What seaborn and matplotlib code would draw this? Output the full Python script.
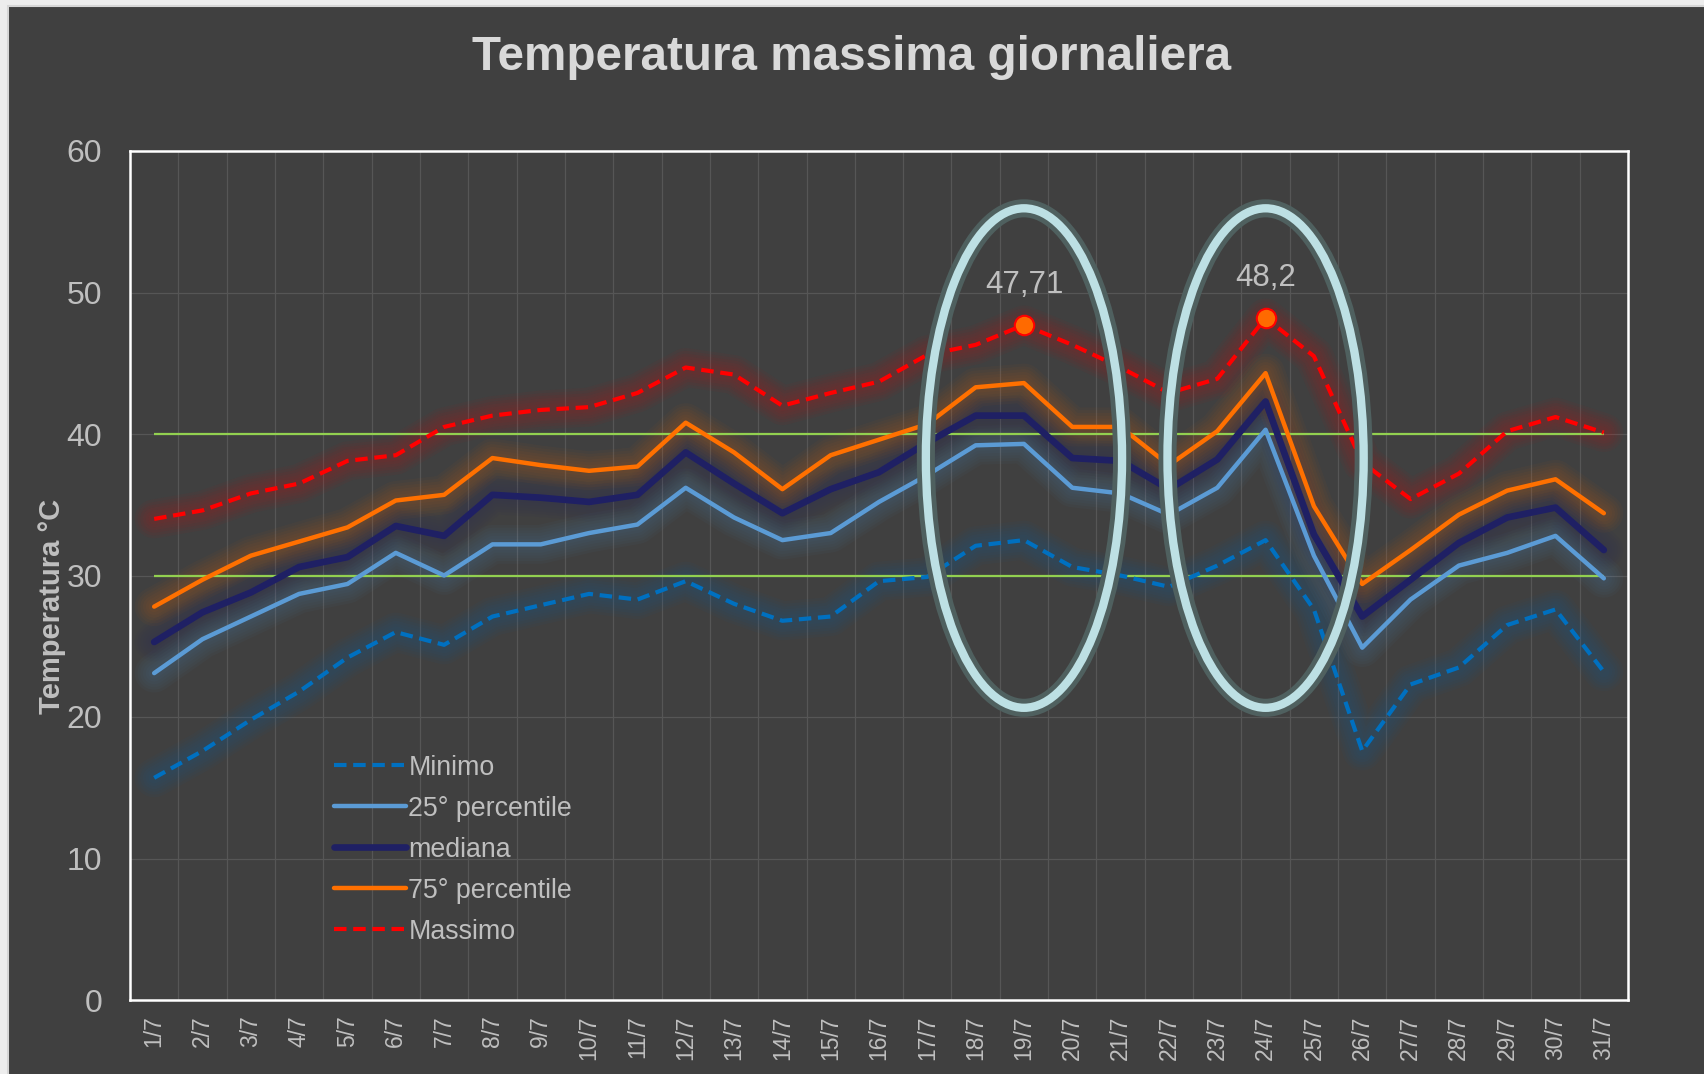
import numpy as np
import matplotlib
matplotlib.use("Agg")
import matplotlib.pyplot as plt
import matplotlib.patheffects as pe
from matplotlib.patches import Ellipse, Rectangle
import seaborn as sns

# dati (luglio)
giorni = [f"{d}/7" for d in range(1, 32)]

minimo = [15.7, 17.6, 19.8, 21.8, 24.2, 26.0, 25.1, 27.1, 27.9, 28.7, 28.3,
          29.6, 28.0, 26.8, 27.1, 29.6, 29.9, 32.1, 32.5, 30.6, 30.0,
          29.2, 30.7, 32.5, 27.6, 17.6, 22.3, 23.5, 26.5, 27.6, 23.2]
p25 = [23.1, 25.5, 27.1, 28.7, 29.4, 31.6, 30.0, 32.2, 32.2, 33.0, 33.6,
       36.2, 34.1, 32.5, 33.0, 35.2, 37.1, 39.2, 39.3, 36.2, 35.8,
       34.3, 36.2, 40.3, 31.4, 24.9, 28.3, 30.7, 31.6, 32.8, 29.8]
mediana = [25.3, 27.4, 28.8, 30.6, 31.3, 33.5, 32.8, 35.7, 35.5, 35.2, 35.7,
           38.7, 36.5, 34.4, 36.1, 37.3, 39.4, 41.3, 41.3, 38.3, 38.1,
           36.1, 38.2, 42.3, 32.9, 27.1, 29.7, 32.3, 34.1, 34.8, 31.8]
p75 = [27.8, 29.7, 31.4, 32.4, 33.4, 35.3, 35.7, 38.3, 37.8, 37.4, 37.7,
       40.8, 38.7, 36.1, 38.5, 39.6, 40.7, 43.3, 43.6, 40.5, 40.5,
       37.8, 40.2, 44.3, 34.9, 29.4, 31.8, 34.3, 36.0, 36.8, 34.4]
massimo = [34.0, 34.6, 35.8, 36.5, 38.1, 38.5, 40.5, 41.3, 41.7, 41.9, 42.9,
           44.7, 44.2, 42.0, 42.9, 43.7, 45.6, 46.3, 47.71, 46.3, 44.7,
           42.9, 43.9, 48.2, 45.5, 38.0, 35.4, 37.2, 40.2, 41.2, 40.1]

soglie = [40, 30]
picchi = [18, 23]  # 19/7 e 24/7

BG = "#404040"
TXT = "#BFBFBF"

sns.set_theme(style="dark")
plt.rcParams['font.family'] = ['Liberation Sans', 'DejaVu Sans']

fig = plt.figure(figsize=(17.04, 10.74), dpi=100, facecolor="#EDEDED")
fig.patches.append(Rectangle((8 / 1704, -0.01), 1.0, 1 - 6 / 1074 + 0.01,
                             transform=fig.transFigure, facecolor=BG,
                             edgecolor="#D6D6D6", lw=1.5, zorder=-1))
ax = fig.add_axes([130 / 1704, 1 - 1000 / 1074, 1498 / 1704, 849 / 1074])
ax.set_facecolor(BG)

x = np.arange(len(giorni))

serie = [
    ("Minimo", minimo, "#0070C0", 3.0, (0, (3, 1.6))),
    ("25° percentile", p25, "#5B9BD5", 3.2, "-"),
    ("mediana", mediana, "#1F2064", 4.8, "-"),
    ("75° percentile", p75, "#FF7000", 3.2, "-"),
    ("Massimo", massimo, "#FF0000", 3.0, (0, (3, 1.6))),
]

# alone sfumato sotto le linee
for nome, valori, colore, lw, ls in serie:
    for k in range(6):
        ax.plot(x, valori, color=colore, lw=8 + 4 * k, alpha=0.035,
                solid_capstyle='round', solid_joinstyle='round', zorder=1)

ax.hlines(soglie, x[0], x[-1], color="#92D050", lw=1.6, zorder=2)

for nome, valori, colore, lw, ls in serie:
    sns.lineplot(x=x, y=valori, ax=ax, color=colore, lw=lw, linestyle=ls,
                 label=nome, zorder=3)

# picchi del massimo
vp = [massimo[i] for i in picchi]
ax.scatter(picchi, vp, s=14 ** 2, color="#FF6A00", edgecolor="#FF0000",
           linewidth=1.5, zorder=5)
for i, v in zip(picchi, vp):
    ax.text(i, v + 2.8, f"{v}".replace('.', ','), ha='center', va='center',
            fontsize=22.5, color=TXT, zorder=7)
    ax.add_patch(Ellipse((i, 38.3), width=4.06, height=35.3, fill=False,
                         edgecolor="#BDE0E4", lw=6, zorder=6,
                         path_effects=[pe.Stroke(linewidth=13, foreground="#4F605F"),
                                       pe.Normal()]))

ax.set_xlim(-0.5, len(giorni) - 0.5)
ax.set_ylim(0, 60)
ax.set_yticks(range(0, 61, 10))
ax.set_xticks(x)
ax.set_xticklabels(giorni, rotation=90)
ax.set_xticks(np.arange(-0.5, len(giorni), 1), minor=True)
ax.tick_params(axis='x', which='both', length=0, pad=11, labelsize=16.5, labelcolor=TXT)
ax.tick_params(axis='y', length=0, pad=20, labelsize=23, labelcolor=TXT)
ax.grid(False)
ax.grid(which='minor', axis='x', color="#565656", lw=0.9)
ax.grid(which='major', axis='y', color="#565656", lw=0.9)
ax.set_xlabel("")
ax.set_ylabel("")
for s in ax.spines.values():
    s.set_visible(True)
    s.set_color("white")
    s.set_linewidth(1.8)

ax.legend(loc='upper left', bbox_to_anchor=(0.129, 0.3015), frameon=False,
          fontsize=19.3, labelcolor=TXT, handlelength=2.7, handletextpad=0.08,
          labelspacing=0.56, borderaxespad=0)

fig.text(0.5, 1 - 58 / 1074, "Temperatura massima giornaliera", ha='center',
         va='center', fontsize=34.3, fontweight='bold', color="#D9D9D9")
fig.text(52 / 1704, 1 - 606 / 1074, "Temperatura °C", rotation=90, ha='center',
         va='center', fontsize=21, fontweight='bold', color=TXT)

fig.savefig("out.png", dpi=100, facecolor=fig.get_facecolor())
